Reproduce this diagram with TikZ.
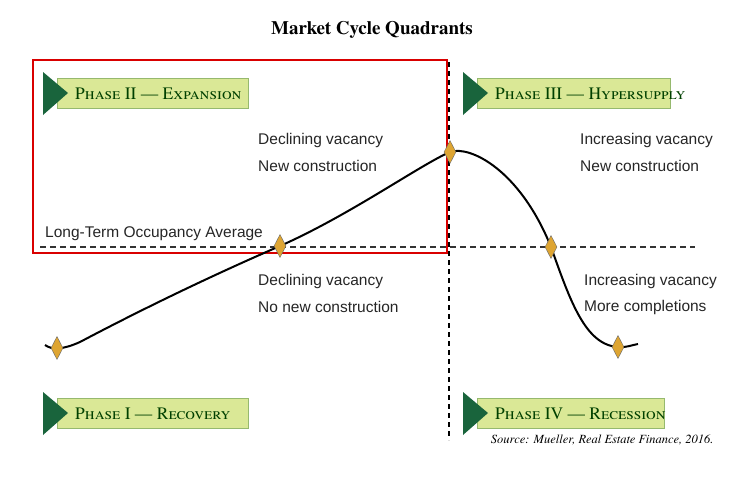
\documentclass[tikz,border=0pt]{standalone}
\usetikzlibrary{shapes.geometric}
\usepackage{fontspec}
\setmainfont{TeX Gyre Termes}[Scale=1]
\newfontfamily\sans{Liberation Sans}
\definecolor{boxf}{RGB}{218,232,150}
\definecolor{boxd}{RGB}{150,185,110}
\definecolor{trif}{RGB}{25,100,60}
\definecolor{diaf}{RGB}{222,165,50}
\begin{document}
\begin{tikzpicture}[x=1pt,y=-1pt,
  lbl/.style={font=\sans\fontsize{15.5}{18}\selectfont,anchor=west,text=black!85,inner sep=0},
  dia/.style={diamond,draw=black!60,fill=diaf,minimum width=12pt,minimum height=23pt,inner sep=0,line width=0.4pt,aspect=0.5},
  tri/.style={fill=trif},
  box/.style={fill=boxf,draw=boxd,line width=1pt},
  btxt/.style={font=\fontsize{17.5}{20}\selectfont\scshape,text=black!75!green,anchor=west,inner sep=0}]
\useasboundingbox[fill=white] (0,0) rectangle (740,490);
\node[font=\bfseries\fontsize{19}{22}\selectfont] (title) at (372,30) {Market Cycle Quadrants};
\draw[red!85!black,line width=1.4pt] (33,60) rectangle (447,253);
\coordinate (vt) at (449,62); \coordinate (vb) at (449,440);
\draw[line width=1.1pt,dash pattern=on 5pt off 4pt] (vt) -- (vb);
\coordinate (hl) at (40,247); \coordinate (hr) at (695,247);
\draw[line width=1.1pt,dash pattern=on 6pt off 4pt,black!80] (hl) -- (hr);
\node[lbl] (lto) at (45,234) {Long-Term Occupancy Average};
\draw[line width=2pt] (45,345) .. controls (52,350) and (62,350) .. (80,342) .. controls (150,305) and (220,272) .. (280,246) .. controls (350,215) and (420,165) .. (450,152) .. controls (470,145) and (520,170) .. (551,247) .. controls (570,300) and (585,345) .. (618,347) .. controls (625,348) and (632,345) .. (638,344);
\node[dia] (d1) at (57,348) {};
\node[dia] (d2) at (280,246) {};
\node[dia] (d3) at (450,152) {};
\node[dia] (d4) at (551,247) {};
\node[dia] (d5) at (618,347) {};
\node[lbl] (t1) at (258,140) {Declining vacancy};
\node[lbl] (t2) at (258,166) {New construction};
\node[lbl] (t3) at (580,140) {Increasing vacancy};
\node[lbl] (t4) at (580,166) {New construction};
\node[lbl] (t5) at (258,281) {Declining vacancy};
\node[lbl] (t6) at (258,307) {No new construction};
\node[lbl] (t7) at (584,281) {Increasing vacancy};
\node[lbl] (t8) at (584,307) {More completions};
\foreach \x/\y/\w/\t [count=\i] in {43/72/248/{Phase II --- Expansion},463/72/670/{Phase III --- Hypersupply},43/392/248/{Phase I --- Recovery},463/392/664/{Phase IV --- Recession}}{
  \draw[box] (\x+14,\y+6) rectangle (\w,\y+36);
  \fill[tri] (\x,\y) -- (\x+25,\y+21) -- (\x,\y+43) -- cycle;
  \node[btxt] (b\i) at (\x+32,\y+21.5) {\t};
}
\node[font=\itshape\fontsize{12.5}{14}\selectfont,anchor=east] (src) at (717,440) {Source: Mueller, Real Estate Finance, 2016.};
\end{tikzpicture}
\end{document}
